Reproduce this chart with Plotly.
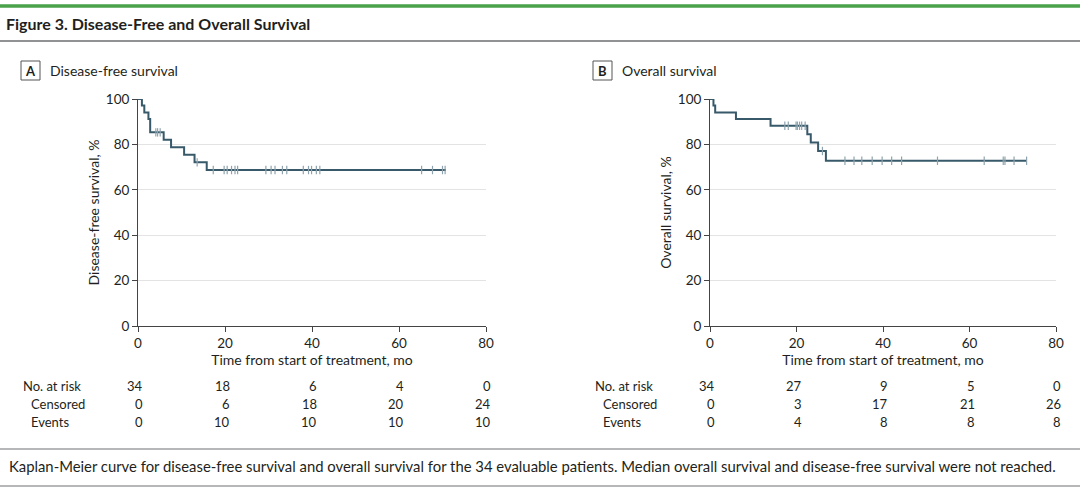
import plotly.graph_objects as go

# ---- data ----
# Panel A: disease-free survival (step curve)
dfs_time = [0, 0.9, 1.45, 2.4, 2.8, 5.9, 7.6, 10.6, 13.0, 15.8, 70.8]
dfs_surv = [100, 97.1, 94.1, 91.2, 85.3, 82.0, 78.7, 75.4, 72.1, 68.7, 68.7]
dfs_cens_time = [4.1, 4.5, 5.1, 13.6, 17.3, 19.8, 20.5, 21.5, 22.3, 22.9, 29.4, 30.6,
                 31.5, 33.2, 34.2, 38.0, 39.2, 39.9, 41.0, 41.8, 65.2, 67.7, 70.0, 70.6]
dfs_cens_surv = [85.3, 85.3, 85.3, 72.1] + [68.7] * 20

# Panel B: overall survival (step curve)
os_time = [0, 0.8, 1.2, 6.0, 14.0, 22.5, 23.3, 25.0, 26.8, 73.2]
os_surv = [100, 97.1, 94.1, 91.2, 88.2, 84.5, 80.8, 77.1, 72.8, 72.8]
os_cens_time = [17.3, 18.1, 19.9, 20.2, 20.7, 21.2, 22.0, 26.0, 31.2, 33.3, 35.1,
                37.5, 39.8, 42.0, 44.3, 52.6, 63.4, 67.8, 68.2, 70.3, 73.2]
os_cens_surv = [88.2] * 7 + [77.1] + [72.8] * 13

# number-at-risk tables
risk_times = [0, 20, 40, 60, 80]
row_labels = ["No. at risk", "Censored", "Events"]
dfs_at_risk = [34, 18, 6, 4, 0]
dfs_censored = [0, 6, 18, 20, 24]
dfs_events = [0, 10, 10, 10, 10]
os_at_risk = [34, 27, 9, 5, 0]
os_censored = [0, 3, 17, 21, 26]
os_events = [0, 4, 8, 8, 8]

title_text = "Figure 3. Disease-Free and Overall Survival"
caption_text = ("Kaplan-Meier curve for disease-free survival and overall survival for the 34 "
                "evaluable patients. Median overall survival and disease-free survival were not reached.")

FONT = "Lato, Roboto, sans-serif"
LINE = "#37596a"
CENS = "#8ea3ad"
TXT = "#231f20"

W, H = 1080, 490


def px(x):
    return x / W


def py(y):
    return 1 - y / H


fig = go.Figure()

panels = [
    dict(t=dfs_time, s=dfs_surv, ct=dfs_cens_time, cs=dfs_cens_surv, xa="x", ya="y",
         dom=(138, 486), letter="A", name="Disease-free survival",
         ytitle="Disease-free survival, %",
         rows=[dfs_at_risk, dfs_censored, dfs_events]),
    dict(t=os_time, s=os_surv, ct=os_cens_time, cs=os_cens_surv, xa="x2", ya="y2",
         dom=(710, 1056), letter="B", name="Overall survival",
         ytitle="Overall survival, %",
         rows=[os_at_risk, os_censored, os_events]),
]

annotations = []
shapes = []

for i, p in enumerate(panels):
    fig.add_trace(go.Scatter(
        x=p["t"], y=p["s"], mode="lines", line=dict(color=LINE, width=2, shape="hv"),
        xaxis=p["xa"], yaxis=p["ya"], showlegend=False, hoverinfo="skip"))
    fig.add_trace(go.Scatter(
        x=p["ct"], y=p["cs"], mode="markers",
        marker=dict(symbol="line-ns", size=6, line=dict(color=CENS, width=1.2)),
        xaxis=p["xa"], yaxis=p["ya"], showlegend=False, hoverinfo="skip"))

    sfx = "" if i == 0 else str(i + 1)
    axis_font = dict(family=FONT, size=14, color=TXT)
    tick_font = dict(family=FONT, size=13.5, color=TXT)
    fig.update_layout(**{
        "xaxis" + sfx: dict(
            domain=[px(p["dom"][0]), px(p["dom"][1])], range=[0, 80],
            tickvals=risk_times, ticks="outside", ticklen=5, tickcolor="#444",
            showline=True, linecolor="#444", linewidth=1, showgrid=False, zeroline=False,
            anchor="y" + sfx, tickfont=tick_font, automargin=False,
            title=dict(text="Time from start of treatment, mo", font=axis_font, standoff=4),
        ),
        "yaxis" + sfx: dict(
            domain=[py(326), py(99)], range=[0, 100],
            tickvals=[0, 20, 40, 60, 80, 100], ticks="outside", ticklen=5, tickcolor="#444",
            showline=True, linecolor="#444", linewidth=1, showgrid=True,
            gridcolor="#e3e3e3", gridwidth=1, zeroline=False,
            anchor="x" + sfx, tickfont=tick_font, automargin=False,
            title=dict(text=p["ytitle"], font=axis_font, standoff=2),
        ),
    })

    # panel letter box + name
    x0 = 21 if i == 0 else 593
    shapes.append(dict(type="rect", xref="paper", yref="paper",
                       x0=px(x0), x1=px(x0 + 19), y0=py(80), y1=py(61),
                       line=dict(color="#555", width=1), fillcolor="white", layer="below"))
    annotations.append(dict(text="<b>" + p["letter"] + "</b>", xref="paper", yref="paper",
                            x=px(x0 + 9.5), y=py(70.5), xanchor="center", yanchor="middle",
                            showarrow=False, font=dict(family=FONT, size=13, color=TXT)))
    annotations.append(dict(text=p["name"], xref="paper", yref="paper",
                            x=px(x0 + 27), y=py(70.5), xanchor="left", yanchor="middle",
                            showarrow=False, font=dict(family=FONT, size=14, color=TXT)))

    # number-at-risk table
    row_y = [386, 404, 422]
    label_x = [21, 29, 29] if i == 0 else [593, 601, 601]
    for r, lab in enumerate(row_labels):
        annotations.append(dict(text=lab, xref="paper", yref="paper", x=px(label_x[r]),
                                y=py(row_y[r]), xanchor="left", yanchor="middle",
                                showarrow=False, font=dict(family=FONT, size=13, color=TXT)))
        for t, v in zip(risk_times, p["rows"][r]):
            annotations.append(dict(text=str(v), xref=p["xa"], yref="paper", x=t, xshift=7,
                                    y=py(row_y[r]), xanchor="right", yanchor="middle",
                                    showarrow=False, font=dict(family=FONT, size=13, color=TXT)))

# header / footer rules
shapes += [
    dict(type="line", xref="paper", yref="paper", x0=0, x1=1, y0=py(6), y1=py(6),
         line=dict(color="#4aa34a", width=3.5)),
    dict(type="line", xref="paper", yref="paper", x0=0, x1=1, y0=py(41), y1=py(41),
         line=dict(color="#6d6e71", width=1.5)),
    dict(type="line", xref="paper", yref="paper", x0=0, x1=1, y0=py(449), y1=py(449),
         line=dict(color="#9d9fa2", width=1.5)),
    dict(type="line", xref="paper", yref="paper", x0=0, x1=1, y0=py(486), y1=py(486),
         line=dict(color="#9d9fa2", width=1.5)),
]
annotations.append(dict(text=title_text, xref="paper", yref="paper", x=px(4), y=py(23),
                        xanchor="left", yanchor="middle", showarrow=False,
                        font=dict(family=FONT, size=16, color=TXT, weight=700)))
annotations.append(dict(text=caption_text, xref="paper", yref="paper", x=px(7), y=py(466),
                        xanchor="left", yanchor="middle", showarrow=False,
                        font=dict(family=FONT, size=14.85, color=TXT)))

fig.update_layout(
    width=W, height=H, margin=dict(l=0, r=0, t=0, b=0),
    paper_bgcolor="white", plot_bgcolor="white",
    shapes=shapes, annotations=annotations, showlegend=False,
)

# the page's default body margin would push the figure 8px down/right
fig.write_html("out.html", config={"displayModeBar": False},
               post_script="document.body.style.margin='0px';")
